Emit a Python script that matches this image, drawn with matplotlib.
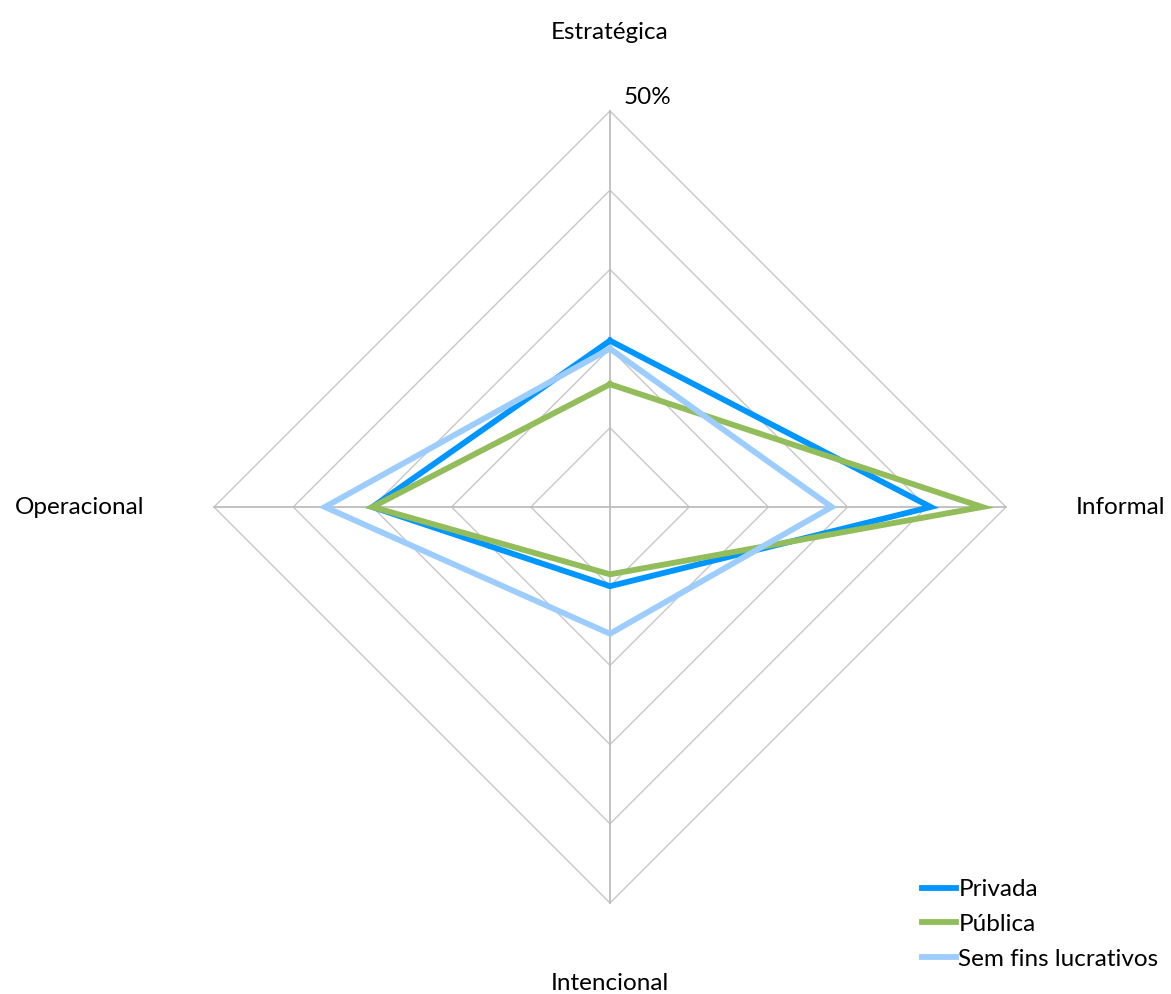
import numpy as np
import matplotlib
matplotlib.use("Agg")
import matplotlib.pyplot as plt

plt.rcParams['font.family'] = ['Lato', 'DejaVu Sans']

categories = ['Estratégica', 'Informal', 'Intencional', 'Operacional']
series_names = ['Privada', 'Pública', 'Sem fins lucrativos']
privada = [21, 40.5, 10, 30]
publica = [15.5, 47, 8.5, 30]
sem_fins = [20, 28, 16, 36]
values = [privada, publica, sem_fins]
colors = ['#0096FF', '#92BD5A', '#9DCDFF']
max_val = 50
rings = [10, 20, 30, 40, 50]

# directions: up, right, down, left
dirs = np.array([[0, 1], [1, 0], [0, -1], [-1, 0]])

def to_xy(vals):
    pts = dirs * np.array(vals)[:, None]
    return np.vstack([pts, pts[:1]])

fig = plt.figure(figsize=(11.71, 9.94), dpi=100)
ax = fig.add_axes([0, 0, 1, 1])
scale = 396 / 50.0
ax.set_xlim(-610 / scale, (1171 - 610) / scale)
ax.set_ylim(-(994 - 507) / scale, 507 / scale)
ax.axis('off')

for r in rings:
    p = to_xy([r] * 4)
    ax.plot(p[:, 0], p[:, 1], color='#C8C8C8', lw=1.0, zorder=1)
for d in dirs:
    ax.plot([0, d[0] * max_val], [0, d[1] * max_val], color='#BDBDBD', lw=1.3, zorder=1)

for name, v, c in zip(series_names, values, colors):
    p = to_xy(v)
    ax.plot(p[:, 0], p[:, 1], color=c, lw=4.2, label=name, zorder=3,
            solid_joinstyle='miter')

fs = 17.5
ax.text(0, max_val + 79 / scale, categories[0], ha='center', va='center', fontsize=fs)
ax.text(max_val + 114 / scale, 0, categories[1], ha='center', va='center', fontsize=fs)
ax.text(0, -max_val - 80 / scale, categories[2], ha='center', va='center', fontsize=fs)
ax.text(-max_val - 134 / scale, 0, categories[3], ha='center', va='center', fontsize=fs)
ax.text(14 / scale, max_val + 14 / scale, '50%', ha='left', va='center', fontsize=fs)

leg = ax.legend(loc='upper left', bbox_to_anchor=(922 / 1171, 1 - 879 / 994),
                frameon=False, fontsize=fs, handlelength=1.4, handletextpad=0.1,
                labelspacing=0.57, borderaxespad=0, borderpad=0)

fig.savefig('out.png', dpi=100)
